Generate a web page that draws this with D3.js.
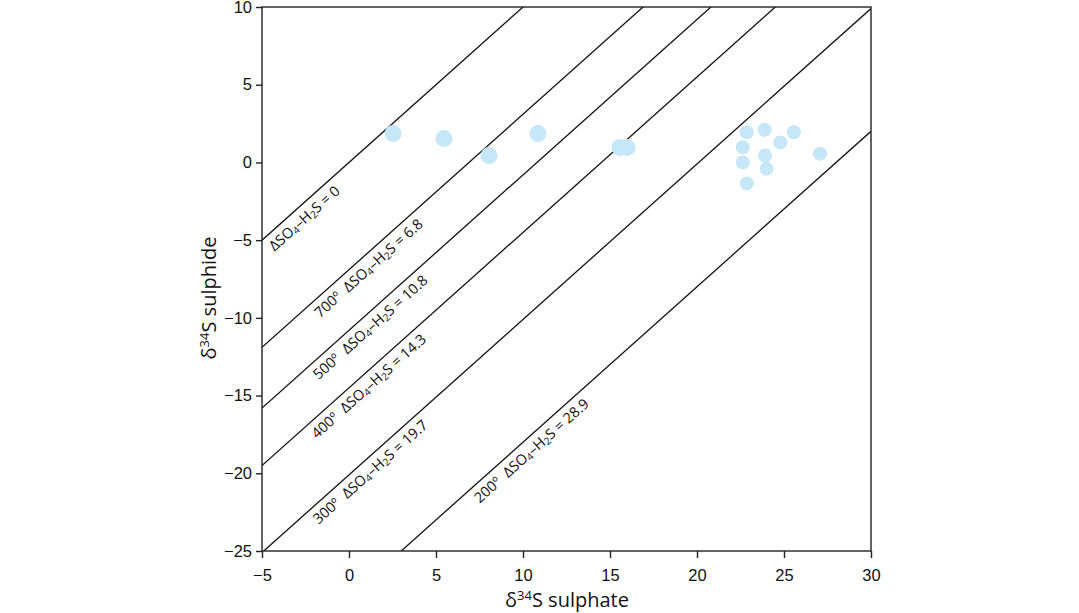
<!DOCTYPE html>
<html><head><meta charset="utf-8">
<script src="https://cdn.jsdelivr.net/npm/d3@7"></script>
<style>body{margin:0;background:#fff;} svg{display:block}</style>
</head><body><svg id="c" width="1079" height="613"></svg>
<script>
// ---- data ----
const xTicks = [-5, 0, 5, 10, 15, 20, 25, 30];
const yTicks = [-25, -20, -15, -10, -5, 0, 5, 10];
const lineOffsets = [0, 6.9, 10.8, 14.5, 20.1, 28.0];      // drawn lines: y = x - offset
const lineTemps = ["", "700º", "500º", "400º", "300º", "200º"];
const lineDeltaLabels = ["0", "6.8", "10.8", "14.3", "19.7", "28.9"];
const labelStartX = [-4.93, -2.32, -2.40, -2.49, -2.40, 6.86];
const groupA_x = [2.53, 5.46, 8.05, 10.86, 15.57, 15.98];
const groupA_y = [1.86, 1.54, 0.45, 1.86, 0.96, 0.96];
const groupB_x = [22.86, 23.89, 25.57, 24.79, 22.63, 23.91, 22.63, 24.0, 27.07, 22.86];
const groupB_y = [1.94, 2.1, 1.94, 1.28, 0.98, 0.45, 0.0, -0.4, 0.56, -1.35];

// ---- layout ----
const L = 262, R = 871, T = 7, B = 551;
const svg = d3.select("#c");
const x = d3.scaleLinear().domain([-5, 30]).range([L, R]);
const y = d3.scaleLinear().domain([-25, 10]).range([B, T]);
const fmt = d => (d < 0 ? "\u2212" + Math.abs(d) : "" + d);

svg.append("defs").append("clipPath").attr("id", "clip")
  .append("rect").attr("x", L).attr("y", T).attr("width", R - L).attr("height", B - T);

// diagonal lines
const gl = svg.append("g").attr("clip-path", "url(#clip)");
lineOffsets.forEach(o => {
  gl.append("line")
    .attr("x1", x(-5)).attr("y1", y(-5 - o))
    .attr("x2", x(30)).attr("y2", y(30 - o))
    .attr("stroke", "#111").attr("stroke-width", 1.3);
});

// line labels
const dx = x(1) - x(0), dy = y(1) - y(0);
const len = Math.hypot(dx, dy);
const ux = dx / len, uy = dy / len;
const nx = -uy, ny = ux;
const ang = Math.atan2(dy, dx) * 180 / Math.PI;
const OFF = 17;
lineOffsets.forEach((o, i) => {
  const sx = labelStartX[i];
  const px = x(sx) + nx * OFF, py = y(sx - o) + ny * OFF;
  const t = svg.append("text")
    .attr("transform", `translate(${px},${py}) rotate(${ang})`)
    .style("font-family", "'Open Sans', 'Noto Sans', sans-serif")
    .style("font-size", "14.5px").attr("fill", "#111");
  let first = true;
  if (lineTemps[i]) { t.append("tspan").text(lineTemps[i]); first = false; }
  t.append("tspan").attr("dx", first ? 0 : 8).text("\u0394SO");
  t.append("tspan").style("font-size", "10px").attr("dy", 2).text("4");
  t.append("tspan").attr("dy", -2).text("\u2013H");
  t.append("tspan").style("font-size", "10px").attr("dy", 2).text("2");
  t.append("tspan").attr("dy", -2).text("S = " + lineDeltaLabels[i]);
});

// points
const col = "#c5e7f8";
svg.append("g").selectAll("circle").data(groupA_x.map((v, i) => [v, groupA_y[i]]))
  .join("circle").attr("cx", d => x(d[0])).attr("cy", d => y(d[1])).attr("r", 8.5).attr("fill", col);
svg.append("g").selectAll("circle").data(groupB_x.map((v, i) => [v, groupB_y[i]]))
  .join("circle").attr("cx", d => x(d[0])).attr("cy", d => y(d[1])).attr("r", 7).attr("fill", col);

// frame
svg.append("rect").attr("x", L).attr("y", T).attr("width", R - L).attr("height", B - T)
  .attr("fill", "none").attr("stroke", "#222").attr("stroke-width", 1.4);

// axes
const ax = svg.append("g").attr("transform", `translate(0,${B})`)
  .call(d3.axisBottom(x).tickValues(xTicks).tickSize(7).tickPadding(11).tickFormat(fmt));
const ay = svg.append("g").attr("transform", `translate(${L},0)`)
  .call(d3.axisLeft(y).tickValues(yTicks).tickSize(6).tickPadding(4).tickFormat(fmt));
[ax, ay].forEach(g => {
  g.attr("font-size", null).attr("font-family", null);
  g.select(".domain").remove();
  g.selectAll("line").attr("stroke", "#222").attr("stroke-width", 1.4);
  g.selectAll("text").style("font-family", "'Liberation Sans', Arial, sans-serif")
    .style("font-size", "16.5px").attr("fill", "#111");
});

// axis titles
function title(txt, tx, ty, rot) {
  const t = svg.append("text")
    .attr("transform", `translate(${tx},${ty}) rotate(${rot})`)
    .attr("text-anchor", "middle")
    .style("font-family", "'Open Sans', 'Noto Sans', sans-serif")
    .style("font-size", "20px").attr("fill", "#111");
  t.append("tspan").text("\u03B4");
  t.append("tspan").style("font-size", "13px").attr("dy", -7).text("34");
  t.append("tspan").attr("dy", 7).text("S " + txt);
}
title("sulphate", 567, 607, 0);
title("sulphide", 216, 298, -90);
</script></body></html>
